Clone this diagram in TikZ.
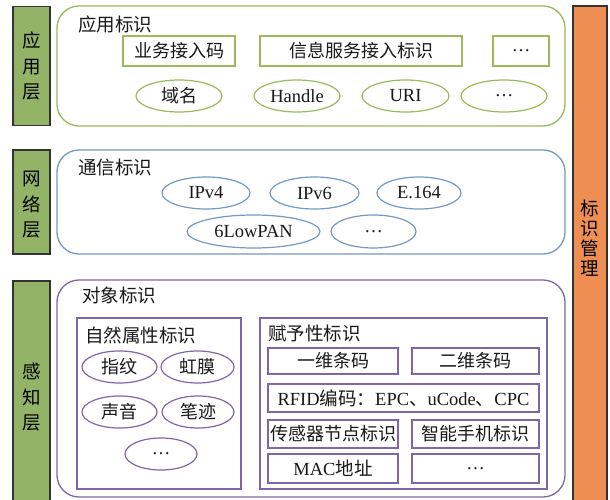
\documentclass[tikz,border=0pt]{standalone}
\usepackage{fontspec}
\setmainfont{Liberation Serif}
\newfontfamily\cjk{Noto Sans CJK SC}
\usetikzlibrary{shapes.geometric}

\definecolor{appline}{HTML}{9BBB59}
\definecolor{netline}{HTML}{7399C6}
\definecolor{objline}{HTML}{8066A8}
\definecolor{barfill}{HTML}{93B366}
\definecolor{mgmtfill}{HTML}{EE8E52}
\definecolor{barline}{HTML}{333333}

\tikzset{
  txt/.style={font=\fontsize{18.5}{20}\selectfont, text=black!90},
  cjktxt/.style={font=\fontsize{18}{20}\selectfont\cjk, text=black!90},
  layerbar/.style={draw=barline, line width=1.4pt, fill=barfill, inner sep=0pt},
  layertext/.style={align=center, inner sep=0pt, font=\fontsize{18.5}{25.5}\selectfont\cjk},
  container/.style={draw=#1, line width=1.3pt, rounded corners=22pt, inner sep=0pt},
  title/.style={anchor=west, inner sep=0pt, font=\fontsize{18.5}{20}\selectfont\cjk, text=black!90},
  rbox/.style={draw=#1, line width=1.2pt, inner sep=0pt, txt},
  oval/.style={ellipse, draw=#1, line width=1.2pt, inner sep=0pt, txt},
}

\begin{document}
\begin{tikzpicture}[x=1pt, y=-1pt]
\clip (0,0) rectangle (610,500);
\fill[white] (0,0) rectangle (610,500);

% ---- layer bars on the left ----
\node[layerbar, minimum width=37, minimum height=119] (barapp) at (31.5,66) {};
\node[layertext] (lblapp) at (barapp.center) {应\\用\\层};
\node[layerbar, minimum width=37, minimum height=104] (barnet) at (31.5,202) {};
\node[layertext] (lblnet) at (31.5,205) {网\\络\\层};
\node[layerbar, minimum width=37, minimum height=232] (barobj) at (31.5,397) {};
\node[layertext] (lblobj) at (31.5,397.5) {感\\知\\层};

% ---- management bar on the right ----
\node[layerbar, fill=mgmtfill, minimum width=34, minimum height=510] (mgmt) at (590,261) {};
\node[layertext, font=\fontsize{18.5}{20}\selectfont\cjk] (lblmgmt) at (590,238) {标\\识\\管\\理};

% ---- application layer ----
\node[container=appline, minimum width=508, minimum height=120] (app) at (311,66) {};
\node[title] (apptitle) at (78,24) {应用标识};
\node[rbox=appline, cjktxt, minimum width=112, minimum height=30] (svc) at (179,51) {业务接入码};
\node[rbox=appline, cjktxt, minimum width=202, minimum height=30] (info) at (361,51) {信息服务接入标识};
\node[rbox=appline, minimum width=56, minimum height=30] (appmore) at (521,51) {…};
\node[oval=appline, cjktxt, minimum width=86, minimum height=32] (dom) at (179,96) {域名};
\node[oval=appline, minimum width=86, minimum height=32] (handle) at (297,96) {Handle};
\node[oval=appline, minimum width=87, minimum height=32] (uri) at (405.5,96) {URI};
\node[oval=appline, minimum width=86, minimum height=32] (appdots) at (504,96) {…};

% ---- network layer ----
\node[container=netline, minimum width=508, minimum height=104] (net) at (311,202) {};
\node[title] (nettitle) at (78,167) {通信标识};
\node[oval=netline, minimum width=88, minimum height=32] (ipv4) at (206,193) {IPv4};
\node[oval=netline, minimum width=89, minimum height=32] (ipv6) at (314.5,193) {IPv6};
\node[oval=netline, minimum width=84, minimum height=32] (e164) at (419,193) {E.164};
\node[oval=netline, minimum width=133, minimum height=33] (lowpan) at (253.5,231.5) {6LowPAN};
\node[oval=netline, minimum width=85, minimum height=33] (netdots) at (373.5,231.5) {…};

% ---- perception layer ----
\node[container=objline, minimum width=508, minimum height=217] (obj) at (311,388.5) {};
\node[title] (objtitle) at (82,295) {对象标识};

% natural attributes
\node[rbox=objline, minimum width=164, minimum height=171] (nat) at (159,403.5) {};
\node[title] (nattitle) at (85,335) {自然属性标识};
\node[oval=objline, cjktxt, minimum width=75, minimum height=32] (finger) at (119.5,367) {指纹};
\node[oval=objline, cjktxt, minimum width=73, minimum height=32] (iris) at (197.5,367) {虹膜};
\node[oval=objline, cjktxt, minimum width=75, minimum height=32] (voice) at (119.5,412) {声音};
\node[oval=objline, cjktxt, minimum width=72, minimum height=32] (hand) at (198,412) {笔迹};
\node[oval=objline, minimum width=72, minimum height=32] (natdots) at (161,454) {…};

% assigned identifiers
\node[rbox=objline, minimum width=287, minimum height=171] (asg) at (403.5,403.5) {};
\node[title] (asgtitle) at (268,333) {赋予性标识};
\node[rbox=objline, cjktxt, minimum width=130, minimum height=26] (bar1d) at (333,361) {一维条码};
\node[rbox=objline, cjktxt, minimum width=127, minimum height=26] (bar2d) at (475.5,361) {二维条码};
\node[rbox=objline, minimum width=271, minimum height=28] (rfid) at (403.5,398) {RFID{\cjk 编码：}EPC{\cjk 、}uCode{\cjk 、}CPC};
\node[rbox=objline, cjktxt, minimum width=130, minimum height=28] (sensor) at (333,434) {传感器节点标识};
\node[rbox=objline, cjktxt, minimum width=127, minimum height=28] (phone) at (475.5,434) {智能手机标识};
\node[rbox=objline, minimum width=130, minimum height=29] (mac) at (333,468.5) {MAC{\cjk 地址}};
\node[rbox=objline, minimum width=127, minimum height=29] (asgdots) at (475.5,468.5) {…};
\end{tikzpicture}
\end{document}
